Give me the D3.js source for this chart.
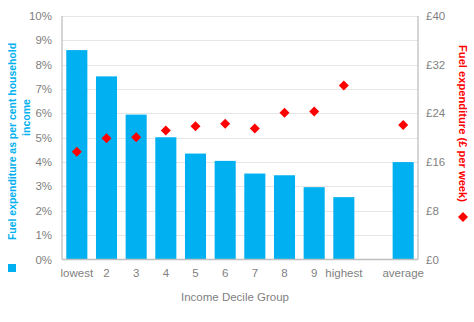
<!DOCTYPE html>
<html><head><meta charset="utf-8">
<script src="https://cdn.jsdelivr.net/npm/d3@7"></script>
<style>body{margin:0;background:#fff}svg{display:block}text{font-family:"Liberation Sans",Arial,sans-serif}</style>
</head><body><svg id="c" width="474" height="322"></svg>
<script>
const categories = ["lowest","2","3","4","5","6","7","8","9","highest","","average"];
const sharePct = [8.6,7.52,5.95,5.02,4.35,4.05,3.53,3.46,2.97,2.56,null,4.0];
const spendGBP = [17.7,19.9,20.1,21.2,21.9,22.3,21.5,24.1,24.3,28.6,null,22.1];
const leftTicks = [0,1,2,3,4,5,6,7,8,9,10];
const rightTicks = [0,8,16,24,32,40];

const svg = d3.select("#c");
const L = 62, R = 418, T = 16, B = 259.5;
const x = d3.scaleBand().domain(d3.range(categories.length)).range([L,R]).paddingInner(0.29).paddingOuter(0.145);
const yL = d3.scaleLinear().domain([0,10]).range([B,T]);
const yR = d3.scaleLinear().domain([0,40]).range([B,T]);
const grey = "#7f7f7f", blue = "#00b0f0", red = "#ff0000";

// gridlines
svg.append("g").selectAll("line").data(leftTicks.slice(1)).join("line")
  .attr("x1",L).attr("x2",R).attr("y1",d=>Math.round(yL(d))+0.5).attr("y2",d=>Math.round(yL(d))+0.5)
  .attr("stroke","#e6e6e6").attr("stroke-width",1);

// bars
svg.append("g").selectAll("rect").data(sharePct.map((v,i)=>({v,i})).filter(d=>d.v!=null)).join("rect")
  .attr("x",d=>x(d.i)).attr("width",x.bandwidth())
  .attr("y",d=>yL(d.v)).attr("height",d=>B-yL(d.v)).attr("fill",blue);

// axis lines
const ax = svg.append("g").attr("stroke","#bfbfbf").attr("stroke-width",1.3);
ax.append("line").attr("x1",L).attr("x2",L).attr("y1",T).attr("y2",B);
ax.append("line").attr("x1",R).attr("x2",R).attr("y1",T).attr("y2",B);
ax.append("line").attr("x1",L).attr("x2",R).attr("y1",B).attr("y2",B);

// diamonds
const diamond = d3.symbol(d3.symbolSquare,50)();
svg.append("g").selectAll("path").data(spendGBP.map((v,i)=>({v,i})).filter(d=>d.v!=null)).join("path")
  .attr("d",diamond)
  .attr("transform",d=>`translate(${x(d.i)+x.bandwidth()/2},${yR(d.v)}) rotate(45)`)
  .attr("fill",red);

// left ticks
svg.append("g").selectAll("text").data(leftTicks).join("text")
  .attr("x",52).attr("y",d=>yL(d)).attr("dy","0.35em").attr("text-anchor","end")
  .attr("font-size",11.5).attr("fill",grey).text(d=>d+"%");
// right ticks
svg.append("g").selectAll("text").data(rightTicks).join("text")
  .attr("x",426).attr("y",d=>yR(d)).attr("dy","0.35em").attr("text-anchor","start")
  .attr("font-size",11.5).attr("fill",grey).text(d=>"£"+d);
// x labels
svg.append("g").selectAll("text").data(categories).join("text")
  .attr("x",(d,i)=>x(i)+x.bandwidth()/2).attr("y",273).attr("dy","0.35em").attr("text-anchor","middle")
  .attr("font-size",11.5).attr("fill",grey).text(d=>d);

svg.append("text").attr("x",235).attr("y",297).attr("dy","0.35em").attr("text-anchor","middle")
  .attr("font-size",11.5).attr("fill",grey).text("Income Decile Group");

// left legend/title
svg.append("rect").attr("x",8).attr("y",264).attr("width",8).attr("height",8).attr("fill",blue);
svg.append("text").attr("transform","translate(12,141.5) rotate(-90)").attr("dy","0.35em")
  .attr("text-anchor","middle").attr("font-size",10.5).attr("font-weight","bold").attr("fill",blue)
  .attr("textLength",197).attr("lengthAdjust","spacingAndGlyphs")
  .text("Fuel expenditure as per cent household");
svg.append("text").attr("transform","translate(26,117.5) rotate(-90)").attr("dy","0.35em")
  .attr("text-anchor","middle").attr("font-size",10.5).attr("font-weight","bold").attr("fill",blue)
  .text("income");

// right legend/title
svg.append("path").attr("d",diamond).attr("transform","translate(463,217) rotate(45)").attr("fill",red);
svg.append("text").attr("transform","translate(463,123.5) rotate(90)").attr("dy","0.35em")
  .attr("text-anchor","middle").attr("font-size",10.5).attr("font-weight","bold").attr("fill",red)
  .attr("textLength",157).attr("lengthAdjust","spacingAndGlyphs")
  .text("Fuel expenditure (£ per week)");
</script></body></html>
